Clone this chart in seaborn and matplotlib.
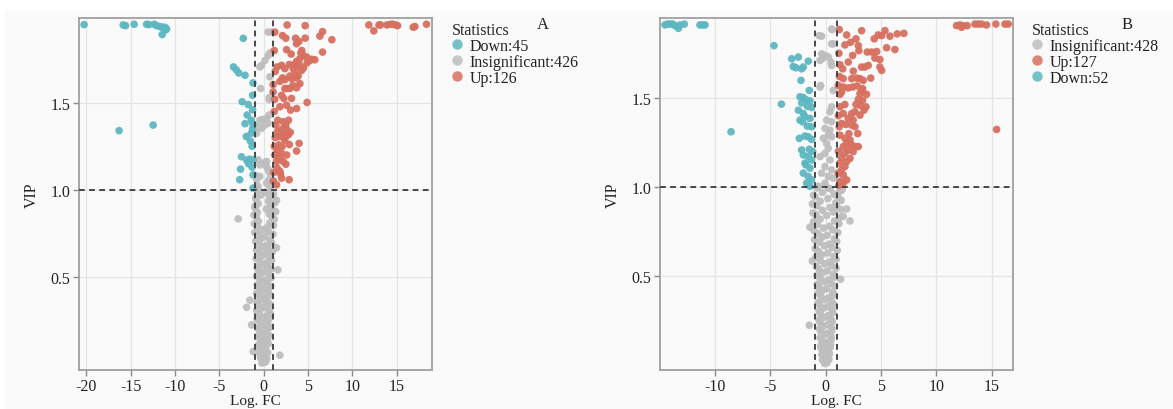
import matplotlib
matplotlib.use("Agg")
import matplotlib.pyplot as plt
import pandas as pd
import seaborn as sns
from matplotlib.lines import Line2D
from matplotlib.patches import Rectangle

# ---------------- Panel A data (Log. FC, VIP) ----------------
A_down = [(-20.24, 1.949), (-15.84, 1.947), (-15.57, 1.943), (-14.6, 1.951), (-13.2, 1.951),
          (-12.94, 1.949), (-12.34, 1.951), (-12.07, 1.943), (-11.7, 1.938), (-11.44, 1.934),
          (-11.14, 1.934), (-10.95, 1.925), (-11.03, 1.919), (-11.44, 1.892), (-16.3, 1.34),
          (-12.46, 1.372),
          (-2.3, 1.87), (-3.4, 1.706), (-3.1, 1.69), (-2.8, 1.671), (-2.1, 1.658), (-1.2, 1.614),
          (-1.25, 1.543), (-2.42, 1.506), (-1.74, 1.49), (-1.86, 1.43), (-2.1, 1.38), (-1.2, 1.377),
          (-1.96, 1.306), (-1.4, 1.325), (-1.25, 1.35), (-2.5, 1.19), (-1.6, 1.176), (-1.2, 1.172),
          (-2.6, 1.119), (-1.2, 1.086), (-2.7, 1.058), (-1.2, 1.01), (-1.9, 1.17), (-1.4, 1.40),
          (-1.5, 1.28), (-1.3, 1.25), (-1.7, 1.15), (-1.3, 1.13), (-1.25, 1.46)]

A_up = [(11.86, 1.947), (12.42, 1.913), (13.0, 1.947), (13.18, 1.947), (13.9, 1.947), (14.3, 1.951),
        (14.6, 1.951), (14.87, 1.947), (15.1, 1.943), (16.86, 1.934), (17.05, 1.938), (18.36, 1.951),
        (2.65, 1.947), (4.68, 1.943), (1.26, 1.906), (2.13, 1.886), (2.5, 1.871), (3.6, 1.871),
        (4.68, 1.871), (6.34, 1.883), (6.64, 1.909), (7.69, 1.862), (3.7, 1.839), (3.97, 1.852),
        (2.58, 1.805), (4.19, 1.787), (4.45, 1.772), (4.08, 1.753), (3.71, 1.738), (6.64, 1.791),
        (4.84, 1.763), (5.21, 1.743), (5.77, 1.747), (1.52, 1.706), (2.02, 1.715), (2.39, 1.696),
        (3.33, 1.696), (3.71, 1.706), (4.08, 1.715), (4.27, 1.686), (3.52, 1.667), (3.89, 1.654),
        (2.95, 1.654), (2.13, 1.643), (2.39, 1.633), (1.83, 1.623), (1.07, 1.605), (3.14, 1.639),
        (3.7, 1.643), (4.08, 1.61), (3.71, 1.586), (2.95, 1.582), (2.65, 1.582), (2.39, 1.582),
        (4.9, 1.502), (1.07, 1.563), (2.02, 1.543), (2.28, 1.525), (3.14, 1.525), (2.58, 1.486),
        (1.83, 1.477), (3.03, 1.458), (3.71, 1.467),
        (1.38, 1.372), (2.2, 1.391), (2.5, 1.372), (2.65, 1.343), (1.56, 1.334), (1.83, 1.306),
        (2.2, 1.315), (2.76, 1.315), (1.71, 1.258), (2.09, 1.249), (2.39, 1.286), (4.0, 1.267),
        (3.71, 1.223), (1.52, 1.22), (2.02, 1.21), (1.83, 1.182), (1.45, 1.163), (2.2, 1.163),
        (2.5, 1.147), (1.52, 1.125), (1.83, 1.106), (2.02, 1.067), (2.87, 1.058), (1.45, 1.029),
        (1.2, 1.45), (1.3, 1.30), (1.2, 1.25), (1.15, 1.10), (1.25, 1.52), (1.3, 1.68), (1.2, 1.80),
        (2.8, 1.40), (3.0, 1.33), (2.9, 1.26), (2.6, 1.20), (1.25, 1.20), (1.1, 1.05), (1.9, 1.09),
        (2.3, 1.30), (1.6, 1.40), (2.1, 1.35), (3.3, 1.60), (3.5, 1.72), (4.5, 1.70), (4.9, 1.73),
        (5.4, 1.75), (4.3, 1.80), (3.1, 1.78), (2.9, 1.72)]

A_ins = [(0.89, 1.906), (0.51, 1.906), (0.7, 1.786), (0.51, 1.772), (0.14, 1.743), (-0.24, 1.715),
         (-0.43, 1.706), (0.7, 1.649), (-0.35, 1.582), (0.62, 1.519), (0.62, 1.53), (-0.43, 1.40),
         (-0.06, 1.405), (0.33, 1.41), (0.62, 1.43), (-0.62, 1.363), (-0.24, 1.353), (0.14, 1.372),
         (0.51, 1.382), (-0.8, 1.325), (-0.62, 1.172), (-0.43, 1.143), (0.14, 1.157), (0.33, 1.134),
         (0.51, 1.115), (0.7, 1.096), (-0.43, 1.077), (-0.8, 1.058), (0.62, 1.058), (-0.62, 1.02),
         (0.7, 1.02), (0.33, 1.039), (-0.8, 1.08), (0.33, 1.163), (0.62, 1.11),
         (-0.2, 0.005), (0.2, 0.01), (0.0, 0.025), (-0.35, 0.035), (0.35, 0.03), (0.1, 0.045),
         (-0.1, 0.05), (1.83, 0.05), (-1.18, 0.071),
         (-0.45, 0.06), (0.45, 0.065), (-0.15, 0.075), (0.2, 0.085), (-0.5, 0.095), (0.05, 0.1),
         (-0.6, 0.11), (0.55, 0.115), (-0.25, 0.12), (0.25, 0.13), (-0.05, 0.14), (0.45, 0.145),
         (-0.45, 0.15), (-0.65, 0.16), (0.6, 0.165), (-0.2, 0.17), (0.15, 0.18), (-0.45, 0.19),
         (0.4, 0.195), (-0.7, 0.205), (0.65, 0.21), (-0.3, 0.22), (0.1, 0.225), (-1.36, 0.224),
         (0.45, 0.235), (-0.5, 0.245), (-0.75, 0.255), (0.6, 0.26), (-0.1, 0.265), (0.3, 0.275),
         (-0.45, 0.285), (0.75, 0.29), (-0.8, 0.305), (-1.93, 0.325), (0.55, 0.31), (-0.25, 0.32),
         (0.15, 0.33), (-0.6, 0.34), (0.7, 0.345), (-1.55, 0.366), (-0.75, 0.355), (0.4, 0.36),
         (-0.1, 0.37), (0.2, 0.38), (-0.45, 0.39), (0.75, 0.395), (-0.8, 0.405), (0.55, 0.41),
         (-0.25, 0.42), (0.1, 0.43), (-0.55, 0.44), (0.8, 0.445), (-0.7, 0.455), (0.45, 0.46),
         (-0.1, 0.47), (0.25, 0.48), (-0.45, 0.49), (0.85, 0.495), (-0.8, 0.505), (0.6, 0.51),
         (-0.3, 0.52), (0.15, 0.53), (-0.6, 0.54), (1.6, 0.54), (0.85, 0.545), (-0.75, 0.555),
         (0.5, 0.56), (-0.05, 0.57), (0.3, 0.58), (-0.45, 0.59), (0.9, 0.595), (-0.85, 0.605),
         (0.65, 0.61), (-0.25, 0.62), (0.2, 0.63), (-0.55, 0.64), (1.0, 0.645), (-0.8, 0.655),
         (1.45, 0.667), (0.5, 0.66), (-0.1, 0.67), (0.3, 0.68), (-0.5, 0.69), (0.9, 0.695),
         (-0.9, 0.705), (0.7, 0.71), (-0.3, 0.72), (0.15, 0.73), (-0.6, 0.74), (1.05, 0.745),
         (-1.0, 0.755), (0.55, 0.76), (-0.2, 0.77), (0.3, 0.78), (-0.7, 0.79), (1.1, 0.795),
         (-2.87, 0.833), (-1.05, 0.805), (0.7, 0.81), (-0.6, 0.82), (1.2, 0.83), (-0.85, 0.845),
         (0.95, 0.845), (-1.1, 0.855), (0.65, 0.86), (-0.7, 0.87), (1.35, 0.875), (1.0, 0.885),
         (-0.95, 0.895), (0.3, 0.89), (-1.0, 0.905), (0.8, 0.91), (-0.6, 0.92), (1.25, 0.925),
         (0.55, 0.935), (-0.85, 0.945), (1.45, 0.94), (-0.9, 0.955), (0.7, 0.96), (-0.3, 0.97),
         (1.1, 0.975), (0.9, 0.99), (-0.7, 0.995), (0.2, 0.985)]

# ---------------- Panel B data ----------------
B_down = [(-14.52, 1.909), (-14.31, 1.914), (-14.07, 1.914), (-13.82, 1.914), (-13.61, 1.905),
          (-13.31, 1.89), (-13.16, 1.909), (-12.77, 1.914), (-11.36, 1.909), (-11.11, 1.909),
          (-10.9, 1.909), (-4.67, 1.793), (-8.55, 1.31), (-4.0, 1.465),
          (-3.07, 1.719), (-2.93, 1.676), (-2.68, 1.669), (-2.17, 1.663), (-2.02, 1.673),
          (-2.47, 1.729), (-1.57, 1.706), (-2.23, 1.598), (-1.48, 1.542), (-2.32, 1.506),
          (-2.02, 1.502), (-1.78, 1.49), (-1.42, 1.483), (-2.17, 1.472), (-1.66, 1.453),
          (-1.27, 1.446), (-2.47, 1.431), (-2.02, 1.412), (-1.87, 1.394), (-2.32, 1.375),
          (-1.42, 1.385), (-2.08, 1.366), (-1.66, 1.342), (-1.27, 1.338), (-2.38, 1.273),
          (-1.87, 1.286), (-1.57, 1.282), (-1.27, 1.267), (-2.17, 1.208), (-1.48, 1.212),
          (-1.17, 1.199), (-2.02, 1.18), (-1.57, 1.171), (-1.27, 1.152), (-1.78, 1.124),
          (-1.42, 1.106), (-1.87, 1.134), (-2.02, 1.078), (-1.57, 1.059), (-1.27, 1.04),
          (-1.72, 1.022), (-1.42, 1.004)]

B_up = [(11.83, 1.905), (12.13, 1.909), (12.28, 1.896), (12.43, 1.905), (12.79, 1.905),
        (13.49, 1.914), (13.79, 1.914), (14.09, 1.914), (14.54, 1.909), (15.38, 1.914),
        (16.2, 1.914), (16.5, 1.914), (15.45, 1.323),
        (1.23, 1.883), (1.9, 1.853), (3.25, 1.877), (2.74, 1.831), (2.26, 1.812), (1.74, 1.797),
        (2.95, 1.793), (3.0, 1.765), (4.39, 1.831), (4.75, 1.853), (5.06, 1.849), (5.36, 1.877),
        (5.81, 1.846), (6.47, 1.859), (7.07, 1.862), (5.51, 1.781), (6.26, 1.771), (2.44, 1.738),
        (2.04, 1.701), (1.29, 1.686), (1.54, 1.663), (3.76, 1.757), (4.16, 1.757), (4.61, 1.76),
        (4.9, 1.715), (4.45, 1.723), (3.25, 1.673), (3.55, 1.673), (3.85, 1.682), (4.9, 1.673),
        (5.06, 1.654), (1.59, 1.608), (2.35, 1.608), (2.8, 1.611), (3.1, 1.608), (3.4, 1.598),
        (4.07, 1.611), (1.14, 1.57), (1.59, 1.561), (2.04, 1.556), (2.44, 1.561), (2.85, 1.567),
        (3.25, 1.542), (3.1, 1.524), (3.34, 1.552),
        (1.44, 1.533), (2.95, 1.492), (3.34, 1.487), (2.74, 1.463), (3.1, 1.459), (3.46, 1.431),
        (3.64, 1.45), (1.74, 1.463), (2.65, 1.422), (2.35, 1.412), (3.1, 1.403), (1.59, 1.412),
        (2.04, 1.385), (2.49, 1.375), (1.83, 1.351), (1.44, 1.357), (2.35, 1.347), (2.65, 1.338),
        (1.23, 1.338),
        (1.29, 1.291), (1.74, 1.273), (2.2, 1.264), (1.9, 1.245), (2.35, 1.236), (2.65, 1.227),
        (2.95, 1.227), (1.59, 1.227), (2.04, 1.208), (2.49, 1.199), (1.74, 1.189), (1.44, 1.165),
        (2.2, 1.161), (1.9, 1.143), (1.29, 1.134), (1.74, 1.115), (1.44, 1.096), (1.14, 1.078),
        (1.59, 1.068), (1.9, 1.04), (1.29, 1.031), (1.59, 1.022),
        (1.2, 1.75), (1.3, 1.45), (1.15, 1.20), (1.2, 1.01), (2.1, 1.30), (2.9, 1.30),
        (1.15, 1.40), (1.3, 1.52), (3.7, 1.52), (2.5, 1.65), (1.25, 1.62)]

B_ins = [(0.54, 1.886), (-0.58, 1.849), (0.69, 1.803), (-0.36, 1.747), (-0.06, 1.738),
         (-0.51, 1.71), (0.24, 1.729), (0.54, 1.682), (-0.45, 1.57), (0.69, 1.542), (0.54, 1.45),
         (0.39, 1.422), (0.09, 1.375), (0.54, 1.366), (-0.06, 1.329), (0.39, 1.319), (0.24, 1.291),
         (0.54, 1.282), (-0.21, 1.273), (0.09, 1.245), (0.24, 1.217), (-0.06, 1.189), (-0.51, 1.171),
         (0.39, 1.152), (-0.06, 1.115), (0.54, 1.096), (-0.36, 1.078), (0.24, 1.059), (0.69, 1.05),
         (-0.06, 1.022), (-0.66, 1.004), (0.24, 0.994), (-0.51, 1.561), (-0.36, 1.846), (0.6, 1.883),
         (0.54, 1.803), (-0.3, 1.72), (0.5, 1.70),
         (-0.1, 0.01), (0.15, 0.015), (-0.3, 0.03), (0.3, 0.035), (0.0, 0.045),
         (-0.35, 0.06), (0.35, 0.065), (-0.1, 0.075), (0.15, 0.085), (-0.4, 0.095), (0.4, 0.1),
         (-0.45, 0.11), (0.45, 0.115), (-0.15, 0.12), (0.2, 0.13), (-0.35, 0.14), (0.5, 0.145),
         (-0.5, 0.155), (0.5, 0.16), (-0.2, 0.17), (0.15, 0.18), (-0.45, 0.19), (0.55, 0.195),
         (-1.48, 0.225), (-0.55, 0.205), (0.55, 0.21), (-0.2, 0.22), (0.2, 0.23), (-0.5, 0.24),
         (0.6, 0.245), (-0.6, 0.255), (0.45, 0.26), (-0.15, 0.27), (0.25, 0.28), (-0.5, 0.29),
         (0.65, 0.295), (-0.6, 0.305), (0.6, 0.31), (-0.25, 0.32), (0.15, 0.33), (-0.55, 0.34),
         (0.7, 0.345), (-0.65, 0.355), (0.5, 0.36), (-0.1, 0.37), (0.3, 0.38), (-0.45, 0.39),
         (0.75, 0.395), (-0.7, 0.405), (0.65, 0.41), (-0.3, 0.42), (0.1, 0.43), (-0.6, 0.44),
         (0.8, 0.445), (-0.75, 0.455), (1.35, 0.483), (0.5, 0.46), (-0.1, 0.47), (0.3, 0.48),
         (-0.5, 0.49), (0.85, 0.495), (-0.8, 0.505), (0.7, 0.51), (-0.3, 0.52), (0.15, 0.53),
         (-0.6, 0.54), (0.95, 0.545), (-1.2, 0.585), (-0.85, 0.555), (0.55, 0.56), (-0.1, 0.57),
         (0.35, 0.58), (-0.5, 0.59), (0.95, 0.595), (-0.9, 0.605), (0.75, 0.61), (-0.35, 0.62),
         (0.2, 0.63), (-0.65, 0.64), (1.05, 0.645), (-0.95, 0.655), (0.6, 0.66), (-0.1, 0.67),
         (0.35, 0.68), (-0.55, 0.69), (1.0, 0.695), (-1.0, 0.705), (0.8, 0.71), (-0.3, 0.72),
         (0.15, 0.73), (-0.7, 0.74), (1.1, 0.745), (-1.42, 0.775), (-1.05, 0.755), (0.65, 0.76),
         (-0.2, 0.77), (0.35, 0.78), (-0.75, 0.79), (1.2, 0.795), (2.2, 0.81), (-1.1, 0.805),
         (0.8, 0.81), (-0.5, 0.82), (1.3, 0.83), (0.1, 0.84), (-0.9, 0.845), (1.59, 0.836),
         (1.9, 0.877), (-1.15, 0.855), (0.7, 0.86), (-0.3, 0.87), (1.35, 0.875), (0.4, 0.885),
         (-0.8, 0.895), (1.0, 0.89), (-1.2, 0.905), (0.9, 0.91), (-0.5, 0.92), (1.4, 0.925),
         (0.2, 0.935), (-0.95, 0.945), (1.15, 0.94), (-1.1, 0.955), (0.75, 0.96), (-0.3, 0.97),
         (1.25, 0.975), (0.4, 0.99), (-0.8, 0.995), (1.5, 0.985)]

A_labels = {"Down": "Down:45", "Insignificant": "Insignificant:426", "Up": "Up:126"}
B_labels = {"Insignificant": "Insignificant:428", "Up": "Up:127", "Down": "Down:52"}
A_order = ["Down", "Insignificant", "Up"]
B_order = ["Insignificant", "Up", "Down"]
A_xticks = [-20, -15, -10, -5, 0, 5, 10, 15]
B_xticks = [-10, -5, 0, 5, 10, 15]
y_ticks = [0.5, 1.0, 1.5]

COLORS = {"Down": "#5DB7C1", "Insignificant": "#BEBEBE", "Up": "#D7705F"}


def make_frame(groups):
    rows = []
    for g, pts in groups.items():
        for x, y in pts:
            rows.append((x, y, g))
    return pd.DataFrame(rows, columns=["logFC", "VIP", "group"])


sns.set_theme(style="whitegrid")
plt.rcParams["font.family"] = ["Liberation Serif", "DejaVu Serif"]
plt.rcParams["axes.unicode_minus"] = False

W, H = 1173, 410
fig = plt.figure(figsize=(W / 100, H / 100), dpi=100, facecolor="#FAFAFA")
fig.add_artist(Rectangle((0, 1 - 11 / H), 1, 11 / H, transform=fig.transFigure,
                         facecolor="white", edgecolor="none", zorder=-5))
fig.add_artist(Rectangle((0, 0), 5 / W, 1, transform=fig.transFigure,
                         facecolor="white", edgecolor="none", zorder=-5))

panels = [
    dict(df=make_frame({"Down": A_down, "Insignificant": A_ins, "Up": A_up}),
         rect=[79 / W, 39 / H, 353 / W, 352 / H], xlim=(-20.82, 18.98), ylim=(-0.035, 1.987),
         xticks=A_xticks, order=A_order, labels=A_labels, leg=(452, 23), letter="A", lpos=(543, 25)),
    dict(df=make_frame({"Down": B_down, "Insignificant": B_ins, "Up": B_up}),
         rect=[660 / W, 39 / H, 353 / W, 352 / H], xlim=(-14.97, 16.93), ylim=(-0.026, 1.948),
         xticks=B_xticks, order=B_order, labels=B_labels, leg=(1032, 23), letter="B", lpos=(1127, 25)),
]

FS = 11.5
for p in panels:
    ax = fig.add_axes(p["rect"])
    ax.set_facecolor("#FAFAFA")
    df = p["df"]
    draw_order = ["Insignificant", "Down", "Up"]
    df["rank"] = df["group"].map({g: i for i, g in enumerate(draw_order)})
    df = df.sort_values("rank")
    sns.scatterplot(data=df, x="logFC", y="VIP", hue="group", palette=COLORS,
                    s=30, linewidth=0, alpha=0.95, legend=False, ax=ax, zorder=3)
    for xv in (-1, 1):
        ax.axvline(xv, color="#3A3A3A", lw=1.3, ls=(0, (3.2, 2.4)), zorder=4)
    ax.axhline(1.0, color="#3A3A3A", lw=1.3, ls=(0, (3.2, 2.4)), zorder=4)
    ax.set_xlim(*p["xlim"])
    ax.set_ylim(*p["ylim"])
    ax.set_xticks(p["xticks"])
    ax.set_xticklabels([str(t) for t in p["xticks"]])
    ax.set_yticks(y_ticks)
    ax.set_yticklabels(["0.5", "1.0", "1.5"])
    ax.grid(True, color="#E4E4E4", lw=0.9)
    ax.set_axisbelow(True)
    for sp in ax.spines.values():
        sp.set_color("#A0A0A0")
        sp.set_linewidth(1.3)
    ax.tick_params(axis="both", length=4, width=1, color="#8A8A8A", labelsize=FS,
                   labelcolor="#222222", pad=2, bottom=True, left=True)
    ax.tick_params(axis="x", pad=1.5)
    ax.set_xlabel("Log. FC", fontsize=11, color="#222222", labelpad=0.5)
    ax.set_ylabel("VIP", fontsize=FS, color="#222222", labelpad=8)

    handles = [Line2D([0], [0], marker="o", ls="", markersize=7.5, markeredgewidth=0,
                      markerfacecolor=COLORS[g], alpha=0.85) for g in p["order"]]
    labels = [p["labels"][g] for g in p["order"]]
    lx, ly = p["leg"]
    leg = ax.legend(handles, labels, title="Statistics", loc="upper left",
                    bbox_to_anchor=(lx / W, 1 - ly / H), bbox_transform=fig.transFigure,
                    frameon=False, fontsize=FS, title_fontsize=FS, handlelength=0.66,
                    handletextpad=0.45, labelspacing=0.0, borderpad=0, borderaxespad=0)
    leg._legend_box.align = "left"
    for t in leg.get_texts():
        t.set_color("#222222")
    fig.text(p["lpos"][0] / W, 1 - p["lpos"][1] / H, p["letter"], ha="center", va="center",
             fontsize=12, color="#222222")

fig.savefig("out.png", dpi=100, facecolor=fig.get_facecolor())
